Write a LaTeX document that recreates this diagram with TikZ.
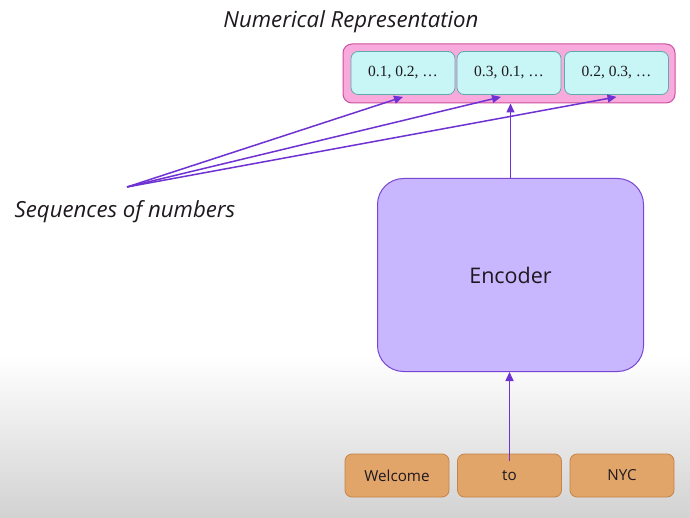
\documentclass[tikz,border=0pt]{standalone}
\usepackage{fontspec}
\setmainfont{Open Sans}
\newfontfamily\numfont{Liberation Serif}
\usetikzlibrary{arrows.meta}
\definecolor{pinkfill}{RGB}{248,170,220}
\definecolor{pinkline}{RGB}{205,80,160}
\definecolor{cyanfill}{RGB}{200,245,245}
\definecolor{cyanline}{RGB}{95,170,170}
\definecolor{encfill}{RGB}{200,182,255}
\definecolor{encline}{RGB}{120,70,210}
\definecolor{orfill}{RGB}{225,165,105}
\definecolor{orline}{RGB}{200,130,70}
\definecolor{arr}{RGB}{110,50,210}
\definecolor{txt}{RGB}{30,25,30}
\definecolor{bggray}{RGB}{210,210,210}
\tikzset{
  box/.style={rounded corners=#1, inner sep=0pt, text=txt},
  numbox/.style={box=7pt, draw=cyanline, fill=cyanfill, line width=0.8pt,
     minimum width=104pt, minimum height=43pt, font=\numfont\fontsize{15.5}{18}\selectfont},
  wordbox/.style={box=7pt, draw=orline, fill=orfill, line width=0.8pt,
     minimum width=104pt, minimum height=43pt, font=\fontsize{15.2}{18}\selectfont},
  conn/.style={draw=arr, line width=1.5pt, -{Triangle[length=9pt,width=8pt]}},
  label/.style={font=\itshape\fontsize{22.2}{26}\selectfont, text=txt, inner sep=0pt}
}
\begin{document}
\begin{tikzpicture}[x=1pt,y=-1pt]
\useasboundingbox (0,0) rectangle (690,518);
\fill[white] (0,0) rectangle (690,518);
\shade[top color=white, bottom color=bggray] (0,355) rectangle (690,518);
% title
\node[label] (title) at (351,22) {Numerical Representation};
% pink container
\node[box=9pt, draw=pinkline, fill=pinkfill, line width=1pt,
      minimum width=332pt, minimum height=59pt] (pink) at (509,73.5) {};
\node[numbox] (c1) at (403,73) {0.1, 0.2, …};
\node[numbox] (c2) at (509,73) {0.3, 0.1, …};
\node[numbox] (c3) at (616.5,73) {0.2, 0.3, …};
% encoder
\node[box=26pt, draw=encline, fill=encfill, line width=1pt,
      minimum width=266pt, minimum height=193pt,
      font=\fontsize{21.5}{26}\selectfont] (enc) at (510.5,275) {Encoder};
% words
\node[wordbox] (w1) at (397,475.5) {Welcome};
\node[wordbox] (w2) at (509.5,475.5) {to};
\node[wordbox] (w3) at (622,475.5) {NYC};
% sequences label
\node[label] (seq) at (125,212) {Sequences of numbers};
\coordinate (src) at (127,187);
% connectors
\draw[conn] (enc.north) -- (enc.north |- pink.south);
\draw[conn] ([yshift=-7pt]w2.north) -- (w2.north |- enc.south);
\draw[conn] (src) -- ([yshift=-2pt]c1.south);
\draw[conn] (src) -- ([xshift=-8pt,yshift=-2pt]c2.south);
\draw[conn] (src) -- ([yshift=-2pt]c3.south);
\end{tikzpicture}
\end{document}
